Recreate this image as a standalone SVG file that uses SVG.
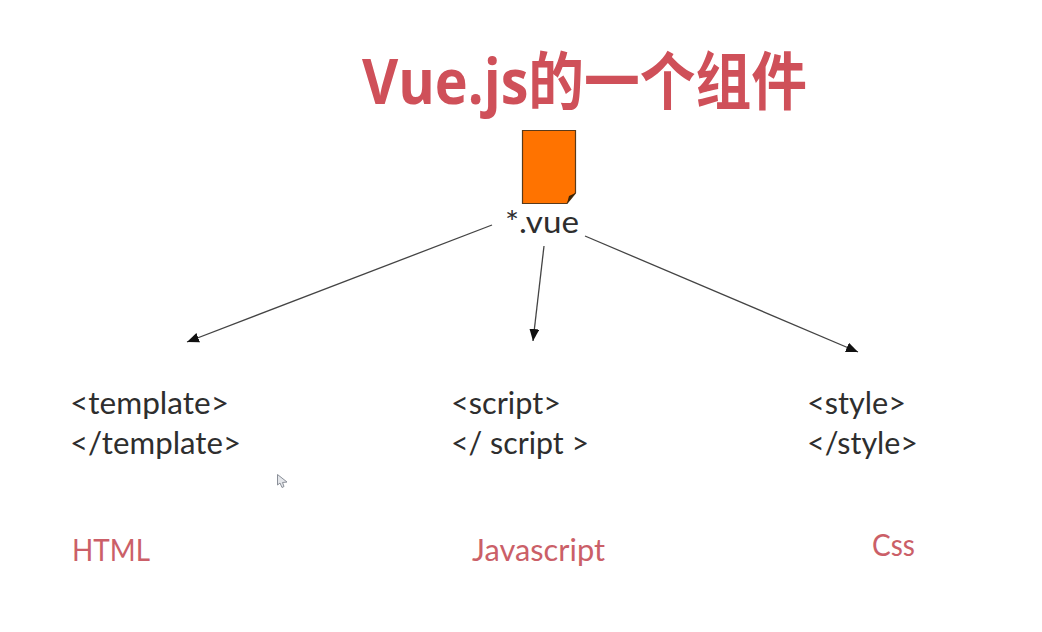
<svg xmlns="http://www.w3.org/2000/svg" width="1042" height="632" viewBox="0 0 1042 632">
<style>
.t{font-family:Lato,"Open Sans",sans-serif;font-size:30px;fill:#2e2e2e}
.r{font-family:Lato,"Open Sans",sans-serif;font-size:30px;fill:#cb5f68}
.title{font-family:"Open Sans","Noto Sans CJK SC",sans-serif;font-size:63px;font-weight:700;fill:#cf5059}
.c{stroke:#444;stroke-width:1.300;fill:none;marker-end:url(#a)}
</style>
<defs><marker id="a" markerUnits="userSpaceOnUse" markerWidth="13" markerHeight="11" refX="12" refY="5" orient="auto"><path d="M0 0L12 5L0 10Z" fill="#111"/></marker></defs>
<rect width="1042" height="632" fill="#fff"/>
<text id="title" class="title" x="362" y="104" textLength="445" lengthAdjust="spacingAndGlyphs">Vue.js的一个组件</text>
<g id="file">
<path d="M522.500 130.500H575.500V193L567 203.500H522.500Z" fill="#ff7300" stroke="#5a3a1a" stroke-width="1.200"/>
<path d="M567 203.500L569 196L575.500 193Z" fill="#3a2408"/>
<text class="t" x="505" y="233" textLength="74" lengthAdjust="spacingAndGlyphs">*.vue</text>
</g>
<g id="connectors">
<path class="c" d="M492 225L187 342"/>
<path class="c" d="M544 246L533 341"/>
<path class="c" d="M585 236L858 352"/>
</g>
<g id="template"><text class="t" x="70" y="414" textLength="159" lengthAdjust="spacingAndGlyphs">&lt;template&gt;</text><text class="t" x="70" y="454" textLength="171" lengthAdjust="spacingAndGlyphs">&lt;/template&gt;</text></g>
<g id="script"><text class="t" x="451" y="414" textLength="110" lengthAdjust="spacingAndGlyphs">&lt;script&gt;</text><text class="t" x="451" y="454" textLength="138" lengthAdjust="spacingAndGlyphs">&lt;/ script &gt;</text></g>
<g id="style"><text class="t" x="807" y="414" textLength="99" lengthAdjust="spacingAndGlyphs">&lt;style&gt;</text><text class="t" x="807" y="454" textLength="111" lengthAdjust="spacingAndGlyphs">&lt;/style&gt;</text></g>
<text id="html" class="r" x="72" y="561" textLength="78" lengthAdjust="spacingAndGlyphs">HTML</text>
<text id="js" class="r" x="472" y="561" textLength="133" lengthAdjust="spacingAndGlyphs">Javascript</text>
<text id="css" class="r" x="872" y="556" textLength="43" lengthAdjust="spacingAndGlyphs">Css</text>
<path id="cursor" d="M277.500 474.500V485L280 483L282 487.500L284 486.500L282.500 482.500L287 482Z" fill="#e4e6ea" stroke="#8a8f98" stroke-width="1"/>
</svg>
